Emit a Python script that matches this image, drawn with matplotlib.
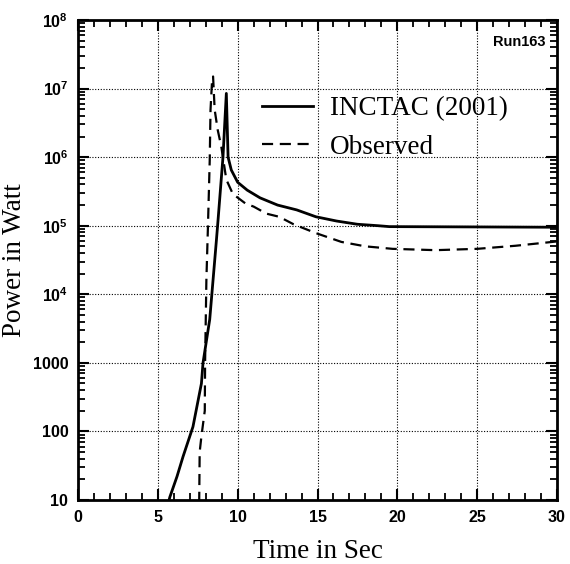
import numpy as np
import matplotlib
matplotlib.use("Agg")
import matplotlib.pyplot as plt
from matplotlib.ticker import FixedLocator, FixedFormatter, MultipleLocator, LogLocator, NullFormatter

# INCTAC (2001) calculation, solid line
inctac_t = [5.6, 5.75, 6.2, 6.58, 7.2, 7.73, 7.83, 8.25, 8.67, 8.77, 9.08, 9.29,
            9.4, 9.6, 10.0, 10.6, 11.4, 12.5, 13.7, 14.9, 16.2, 17.5, 18.8, 19.5, 25.0, 30.0]
inctac_p = [8, 11, 22, 43, 117, 500, 1000, 4300, 6.2e4, 1.2e5, 1.0e6, 8.5e6,
            1.0e6, 6.5e5, 4.3e5, 3.3e5, 2.55e5, 2.0e5, 1.7e5, 1.35e5, 1.17e5, 1.05e5, 1.0e5, 9.7e4, 9.6e4, 9.5e4]

# observed power, dashed line
obs_t = [7.58, 7.62, 7.73, 7.94, 7.96, 8.04, 8.14, 8.25, 8.3, 8.4, 8.46, 8.56, 8.75,
         8.98, 9.29, 9.7, 10.5, 11.0, 11.8, 12.6, 13.5, 14.9, 16.5, 18.0, 19.7, 22.4,
         25.0, 27.4, 30.0]
obs_p = [5, 50, 85, 200, 1000, 1.6e4, 1.0e5, 9.0e5, 4.9e6, 1.35e7, 1.5e7, 4.9e6, 2.5e6,
         1.4e6, 4.7e5, 2.9e5, 2.1e5, 1.9e5, 1.5e5, 1.35e5, 1.05e5, 7.8e4, 5.8e4, 5.0e4, 4.6e4, 4.4e4,
         4.6e4, 5.1e4, 5.9e4]

ytick_values = [10, 100, 1000, 1e4, 1e5, 1e6, 1e7, 1e8]
ytick_labels = ["10", "100", "1000", r"$\mathbf{10^{4}}$", r"$\mathbf{10^{5}}$",
                r"$\mathbf{10^{6}}$", r"$\mathbf{10^{7}}$", r"$\mathbf{10^{8}}$"]
xtick_values = [0, 5, 10, 15, 20, 25, 30]

plt.rcParams["mathtext.fontset"] = "custom"
plt.rcParams["mathtext.bf"] = "Liberation Sans:bold"
plt.rcParams["mathtext.rm"] = "Liberation Sans"

SERIF = ["Liberation Serif", "DejaVu Serif"]
SANS = ["Liberation Sans", "DejaVu Sans"]

fig = plt.figure(figsize=(5.70, 5.64), dpi=100)
ax = fig.add_axes([78 / 570, 1 - 500 / 564, (557 - 78) / 570, (500 - 20) / 564])

ax.plot(inctac_t, inctac_p, color="black", lw=2.0, label="INCTAC (2001)")
ax.plot(obs_t, obs_p, color="black", lw=1.6, linestyle=(0, (5, 3)), label="Observed")

ax.set_yscale("log")
ax.set_xlim(0, 30)
ax.set_ylim(10, 1e8)

ax.xaxis.set_major_locator(FixedLocator(xtick_values))
ax.xaxis.set_minor_locator(MultipleLocator(1))
ax.yaxis.set_major_locator(FixedLocator(ytick_values))
ax.yaxis.set_major_formatter(FixedFormatter(ytick_labels))
ax.yaxis.set_minor_locator(LogLocator(base=10, subs=np.arange(2, 10)))
ax.yaxis.set_minor_formatter(NullFormatter())

ax.tick_params(which="both", direction="in", top=True, right=True, color="black")
ax.tick_params(which="major", length=8, width=1.5, labelsize=11.5, pad=7)
ax.tick_params(which="minor", length=5, width=1.3)
for lab in ax.get_xticklabels() + ax.get_yticklabels():
    lab.set_family(SANS)
    lab.set_fontweight("bold")

for sp in ax.spines.values():
    sp.set_linewidth(2)

ax.grid(True, which="major", color="black", linestyle=(0, (1, 1.5)), linewidth=0.8)

ax.set_xlabel("Time in Sec", family=SERIF, fontsize=19.5, labelpad=10)
ax.set_ylabel("Power in Watt", family=SERIF, fontsize=19.5, labelpad=4)

ax.text(0.975, 0.955, "Run163", transform=ax.transAxes, ha="right", va="center",
        family=SANS, fontweight="bold", fontsize=10.5)

leg = ax.legend(loc="upper left", bbox_to_anchor=(262 / 570, 1 - 96 / 564),
                bbox_transform=fig.transFigure, frameon=False, borderpad=0,
                borderaxespad=0, handlelength=1.9, handletextpad=0.6,
                labelspacing=0.5, prop={"family": SERIF, "size": 19.5})

fig.savefig("out.png", dpi=100)
